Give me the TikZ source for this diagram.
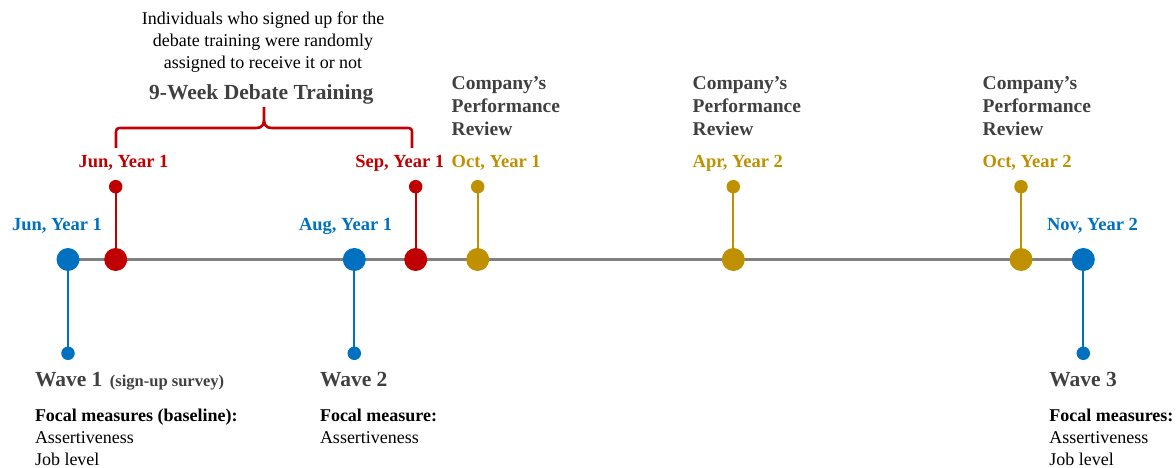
\documentclass[tikz,border=0pt]{standalone}
\usepackage{fontspec}
\setmainfont{Liberation Serif}
\usetikzlibrary{backgrounds}
\definecolor{tblue}{HTML}{0070C0}
\definecolor{tred}{HTML}{C00000}
\definecolor{tgold}{HTML}{BF9000}
\definecolor{tgray}{HTML}{808080}
\definecolor{tdark}{HTML}{404040}
\begin{document}
\begin{tikzpicture}[x=1pt,y=-1pt,
  bigdot/.style={circle, fill=#1, minimum size=23pt, inner sep=0pt, outer sep=0pt},
  smalldot/.style={circle, fill=#1, minimum size=13.5pt, inner sep=0pt, outer sep=0pt},
  stem/.style={draw=#1, line width=2.3pt},
  lbl/.style={inner sep=0pt, outer sep=0pt, font=\fontsize{18.5}{20}\selectfont\bfseries, text=#1},
  crev/.style={inner sep=0pt, outer sep=0pt, anchor=base west, font=\fontsize{19.5}{21}\selectfont\bfseries, text=tdark},
  wave/.style={inner sep=0pt, outer sep=0pt, anchor=base west, font=\fontsize{21.5}{23}\selectfont\bfseries, text=tdark},
  body/.style={inner sep=0pt, outer sep=0pt, font=\rmfamily\fontsize{18}{20}\selectfont, text=black},
  bodyb/.style={body, font=\rmfamily\fontsize{18}{20}\selectfont\bfseries}]
\useasboundingbox (0,0) rectangle (1176,468);

% big dots on the timeline
\node[bigdot=tblue] (b1) at (68,259.5) {};
\node[bigdot=tred]  (r1) at (115.7,259.5) {};
\node[bigdot=tblue] (b2) at (354.3,259.5) {};
\node[bigdot=tred]  (r2) at (415.7,259.5) {};
\node[bigdot=tgold] (g1) at (477.7,259.5) {};
\node[bigdot=tgold] (g2) at (733.3,259.5) {};
\node[bigdot=tgold] (g3) at (1021,259.5) {};
\node[bigdot=tblue] (b3) at (1083.3,259.5) {};

% small dots
\node[smalldot=tblue] (sb1) at (68,353.3) {};
\node[smalldot=tblue] (sb2) at (354.3,353.3) {};
\node[smalldot=tblue] (sb3) at (1083.3,353.3) {};
\node[smalldot=tred]  (sr1) at (115.7,186.7) {};
\node[smalldot=tred]  (sr2) at (415.7,186.7) {};
\node[smalldot=tgold] (sg1) at (477.7,186.7) {};
\node[smalldot=tgold] (sg2) at (733.3,186.7) {};
\node[smalldot=tgold] (sg3) at (1021,186.7) {};

\begin{scope}[on background layer]
  \draw[tgray, line width=2.3pt] (b1.center) -- (b3.center);
  \draw[stem=tblue] (b1.center) -- (sb1.center);
  \draw[stem=tblue] (b2.center) -- (sb2.center);
  \draw[stem=tblue] (b3.center) -- (sb3.center);
  \draw[stem=tred] (r1.center) -- (sr1.center);
  \draw[stem=tred] (r2.center) -- (sr2.center);
  \draw[stem=tgold] (g1.center) -- (sg1.center);
  \draw[stem=tgold] (g2.center) -- (sg2.center);
  \draw[stem=tgold] (g3.center) -- (sg3.center);
\end{scope}

% date labels
\node[lbl=tblue, anchor=base] (lb1) at (57,230) {Jun, Year 1};
\node[lbl=tblue, anchor=base] (lb2) at (345.6,230) {Aug, Year 1};
\node[lbl=tblue, anchor=base] (lb3) at (1092.5,230) {Nov, Year 2};
\node[lbl=tred, anchor=base] (lr1) at (123.5,167.5) {Jun, Year 1};
\node[lbl=tred, anchor=base] (lr2) at (399.7,167.5) {Sep, Year 1};
\node[lbl=tgold, anchor=base west] (lg1) at (451.7,167.5) {Oct, Year 1};
\node[lbl=tgold, anchor=base west] (lg2) at (692.7,167.5) {Apr, Year 2};
\node[lbl=tgold, anchor=base west] (lg3) at (982.7,167.5) {Oct, Year 2};

% performance reviews
\foreach \x/\n in {451.7/a, 692.7/b, 982.7/c}{
  \node[crev] (c1\n) at (\x,89.5) {Company’s};
  \node[crev] (c2\n) at (\x,112.5) {Performance};
  \node[crev] (c3\n) at (\x,135.5) {Review};
}

% training brace
\draw[tred, line width=2.6pt, line join=round]
  (116,148) -- (116,135) .. controls (116,128) .. (123,128) -- (256,128)
  .. controls (262,128) and (264,125) .. (264,119) -- (264,107)
  (264,119) .. controls (264,125) and (266,128) .. (272,128) -- (405,128)
  .. controls (412,128) .. (412,135) -- (412,148);
\node[inner sep=0pt, anchor=base, font=\fontsize{21.5}{23}\selectfont\bfseries, text=tdark] (train) at (261.2,100) {9-Week Debate Training};
\node[body, anchor=base] (t1) at (263,25) {Individuals who signed up for the};
\node[body, anchor=base] (t2) at (263,46.7) {debate training were randomly};
\node[body, anchor=base] (t3) at (263,68.3) {assigned to receive it or not};

% waves
\node[wave] (w1) at (35,386) {Wave 1\hspace{7.5pt}{\fontsize{16.5}{18}\selectfont (sign-up survey)}};
\node[bodyb, anchor=base west] (f1) at (35,421.7) {Focal measures (baseline):};
\node[body, anchor=base west] (a1) at (35,443.3) {Assertiveness};
\node[body, anchor=base west] (j1) at (35,465) {Job level};

\node[wave] (w2) at (320,386) {Wave 2};
\node[bodyb, anchor=base west] (f2) at (320,421.7) {Focal measure:};
\node[body, anchor=base west] (a2) at (320,443.3) {Assertiveness};

\node[wave] (w3) at (1049.3,386) {Wave 3};
\node[bodyb, anchor=base west] (f3) at (1049.3,421.7) {Focal measures:};
\node[body, anchor=base west] (a3) at (1049.3,443.3) {Assertiveness};
\node[body, anchor=base west] (j3) at (1049.3,465) {Job level};
\end{tikzpicture}
\end{document}
